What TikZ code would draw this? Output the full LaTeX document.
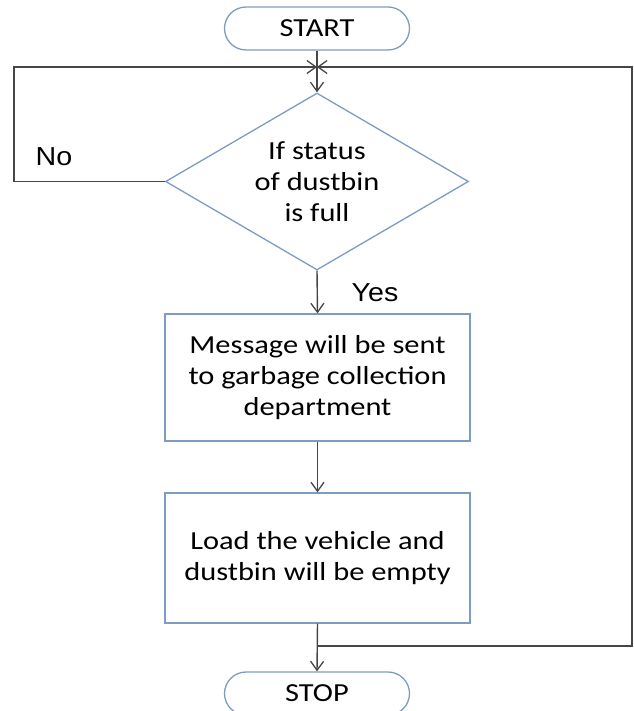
\documentclass[tikz,border=0pt]{standalone}
\usepackage{fontspec}
\setmainfont{Carlito}[FakeStretch=1.17]
\newfontfamily\arialf{Liberation Sans}[FakeStretch=1.1]
\usetikzlibrary{shapes.geometric,arrows.meta}
\definecolor{shapeblue}{RGB}{125,155,195}
\definecolor{linegray}{RGB}{70,70,70}
\tikzset{
  x=1pt,y=-1pt,
  term/.style={draw=shapeblue,line width=1.3pt,rounded corners=21.5pt,minimum width=185pt,minimum height=43pt,inner sep=0pt,font=\fontsize{26}{31}\selectfont},
  procbox/.style={draw=shapeblue,line width=1.3pt,minimum width=305pt,inner sep=0pt,align=center,font=\fontsize{26}{31}\selectfont},
  decision/.style={draw=shapeblue,line width=1.3pt,diamond,minimum width=303pt,minimum height=177pt,inner sep=0pt},
  dectext/.style={align=center,inner sep=0pt,font=\fontsize{26}{31}\selectfont},
  conn/.style={draw=linegray,line width=1.4pt},
  arr/.style={conn,-{Straight Barb[length=9pt,width=13pt,line width=1.3pt]}},
  lbl/.style={font=\arialf\fontsize{26}{30}\selectfont,text=black,inner sep=0pt}
}
\begin{document}
\begin{tikzpicture}
\useasboundingbox (0,0) rectangle (633,711);
\node[term] (start) at (317,28.5) {START};
\node[decision] (dec) at (317,181.5) {};
\node[dectext] (dectxt) at (dec.center) {If status\\of dustbin\\is full};
\node[procbox,minimum height=127pt] (msg) at (317.5,377.5) {Message will be sent\\to garbage collection\\department};
\node[procbox,minimum height=130pt] (load) at (317.5,558) {Load the vehicle and\\dustbin will be empty};
\node[term] (stop) at (317,693.5) {STOP};
\coordinate (top) at (317,67);
\coordinate (bot) at (317,646);
\coordinate (tl) at (14,67);
\coordinate (bl) at (14,181.5);
\coordinate (tr) at (632,67);
\coordinate (br) at (632,646);
\draw[conn] (start.south) -- (top);
\draw[arr] (top) -- (dec.north);
\draw[arr] (dec.west) -- (bl) -- (tl) -- (top);
\draw[arr] (bot) -- (br) -- (tr) -- (top);
\draw[arr] (dec.south) -- (msg.north);
\draw[arr] (msg.south) -- (load.north);
\draw[arr] (load.south) -- (stop.north);
\node[lbl] (no) at (54,157) {No};
\node[lbl] (yes) at (375,293) {Yes};
\end{tikzpicture}
\end{document}
